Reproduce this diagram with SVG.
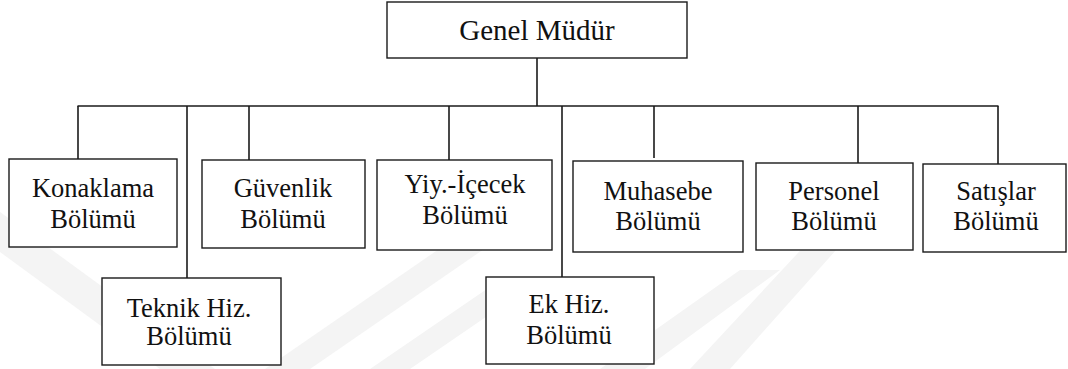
<svg xmlns="http://www.w3.org/2000/svg" width="1068" height="369" viewBox="0 0 1068 369">
  <style>
    .box { fill: #ffffff; stroke: #1a1a1a; stroke-width: 1.4; }
    .wire { fill: none; stroke: #1a1a1a; stroke-width: 1.6; }
    .lbl { font-family: 'Liberation Serif', 'DejaVu Serif', serif; font-size: 26.5px; fill: #111111; text-anchor: middle; }
    .top { font-size: 29px; }
    .mark { fill: #f4f4f4; }
  </style>

  <rect width="1068" height="369" fill="#ffffff"/>

  <!-- faint background watermark bands -->
  <g id="watermark">
    <polygon class="mark" points="0,212 0,252 160,369 215,369"/>
    <polygon class="mark" points="265,369 310,369 500,238 455,238"/>
    <polygon class="mark" points="370,369 410,369 540,280 500,280"/>
    <polygon class="mark" points="600,369 645,369 780,270 740,270"/>
    <polygon class="mark" points="690,369 730,369 845,240 810,240"/>
  </g>

  <!-- connectors -->
  <g id="connectors">
    <line class="wire" x1="537" y1="58" x2="537" y2="106"/>
    <line class="wire" x1="77.5" y1="106" x2="998.5" y2="106"/>
    <line class="wire" x1="78" y1="106" x2="78" y2="159"/>
    <line class="wire" x1="187" y1="106" x2="187" y2="278"/>
    <line class="wire" x1="249" y1="106" x2="249" y2="160"/>
    <line class="wire" x1="449" y1="106" x2="449" y2="160"/>
    <line class="wire" x1="562" y1="106" x2="562" y2="277"/>
    <line class="wire" x1="654" y1="106" x2="654" y2="158"/>
    <line class="wire" x1="858" y1="106" x2="858" y2="163"/>
    <line class="wire" x1="998" y1="106" x2="998" y2="164"/>
  </g>

  <g id="genel-mudur">
    <rect class="box" x="387" y="2" width="300" height="56"/>
    <text class="lbl top" x="537" y="40">Genel Müdür</text>
  </g>

  <g id="konaklama">
    <rect class="box" x="9" y="159" width="168" height="88"/>
    <text class="lbl" x="93" y="197">Konaklama</text>
    <text class="lbl" x="93" y="228">Bölümü</text>
  </g>

  <g id="teknik">
    <rect class="box" x="102" y="278" width="179" height="87"/>
    <text class="lbl" x="189" y="317">Teknik Hiz.</text>
    <text class="lbl" x="189" y="345">Bölümü</text>
  </g>

  <g id="guvenlik">
    <rect class="box" x="202" y="160" width="163" height="88"/>
    <text class="lbl" x="283" y="197">Güvenlik</text>
    <text class="lbl" x="283" y="228">Bölümü</text>
  </g>

  <g id="yiyecek-icecek">
    <rect class="box" x="377" y="160" width="175" height="90"/>
    <text class="lbl" x="465" y="193">Yiy.-İçecek</text>
    <text class="lbl" x="465" y="224">Bölümü</text>
  </g>

  <g id="ek-hizmet">
    <rect class="box" x="486" y="277" width="168" height="87"/>
    <text class="lbl" x="569" y="313">Ek Hiz.</text>
    <text class="lbl" x="569" y="344">Bölümü</text>
  </g>

  <g id="muhasebe">
    <rect class="box" x="573" y="161" width="170" height="91"/>
    <text class="lbl" x="658" y="200">Muhasebe</text>
    <text class="lbl" x="658" y="230">Bölümü</text>
  </g>

  <g id="personel">
    <rect class="box" x="756" y="163" width="157" height="87"/>
    <text class="lbl" x="834" y="200">Personel</text>
    <text class="lbl" x="834" y="230">Bölümü</text>
  </g>

  <g id="satislar">
    <rect class="box" x="923" y="164" width="143" height="88"/>
    <text class="lbl" x="996" y="200">Satışlar</text>
    <text class="lbl" x="996" y="230">Bölümü</text>
  </g>
</svg>
